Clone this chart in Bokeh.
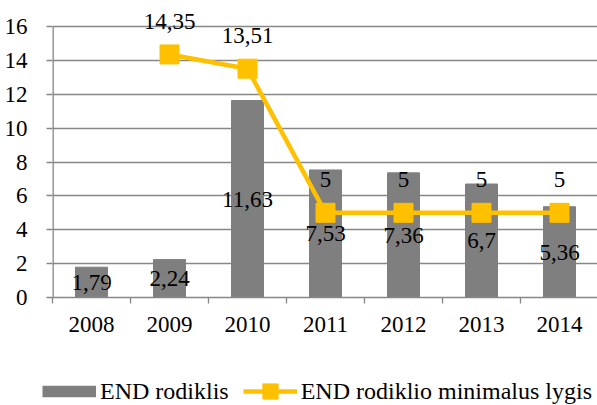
from bokeh.plotting import figure
from bokeh.layouts import column
from bokeh.models import ColumnDataSource, LabelSet, Legend, LegendItem, FixedTicker, Range1d
from bokeh.embed import file_html
from bokeh.resources import INLINE

# ---- data ----
years = [2008, 2009, 2010, 2011, 2012, 2013, 2014]
end_rodiklis = [1.79, 2.24, 11.63, 7.53, 7.36, 6.7, 5.36]
min_years = [2009, 2010, 2011, 2012, 2013, 2014]
min_lygis = [14.35, 13.51, 5, 5, 5, 5]
y_ticks = [0, 2, 4, 6, 8, 10, 12, 14, 16]
series_names = ["END rodiklis", "END rodiklio minimalus lygis"]


def fmt(v):
    return f"{v:g}".replace(".", ",")


FONT = "Liberation Serif"
GRID = "#878787"
BAR = "#7f7f7f"
GOLD = "#FFC000"
TXT = "23px"

bar_src = ColumnDataSource(dict(
    x=years, top=end_rodiklis,
    mid=[v / 2 for v in end_rodiklis],
    lbl=[fmt(v) for v in end_rodiklis]))
line_src = ColumnDataSource(dict(
    x=min_years, y=min_lygis, lbl=[fmt(v) for v in min_lygis]))

# frame: 545 px wide (78 px per year), 297 px tall; y=16 sits 26 px below the top
x_start = years[0] - 0.5
p = figure(width=597, height=340, output_backend="svg", toolbar_location=None,
           x_range=Range1d(x_start, x_start + 545 / 78),
           y_range=Range1d(y_ticks[0], y_ticks[-1] * 297 / 271),
           min_border_left=52, min_border_right=0, min_border_top=0,
           min_border_bottom=43)
p.outline_line_color = None

bars = p.vbar(x="x", top="top", width=0.41, source=bar_src,
              fill_color=BAR, line_color=BAR)
line = p.line("x", "y", source=line_src, line_color=GOLD, line_width=4.5)
marks = p.scatter("x", "y", source=line_src, marker="square", size=19,
                  fill_color=GOLD, line_color=GOLD)

# grid
p.xgrid.visible = False
p.ygrid.ticker = FixedTicker(ticks=y_ticks)
p.ygrid.grid_line_color = GRID
p.ygrid.grid_line_width = 1.3

# y axis (its line only spans the tick range, as in the reference)
p.segment(x0=[x_start], y0=[y_ticks[0]], x1=[x_start], y1=[y_ticks[-1]],
          line_color=GRID, line_width=2.6)
p.yaxis.ticker = FixedTicker(ticks=y_ticks)
p.yaxis.axis_line_color = None
p.yaxis.major_tick_line_color = GRID
p.yaxis.major_tick_line_width = 1.3
p.yaxis.major_tick_out = 6
p.yaxis.major_tick_in = 0
p.yaxis.minor_tick_line_color = None
p.yaxis.major_label_text_font = FONT
p.yaxis.major_label_text_font_size = TXT
p.yaxis.major_label_text_color = "black"
p.yaxis.major_label_standoff = 19

# x axis
p.xaxis.ticker = FixedTicker(ticks=years,
                             minor_ticks=[y - 0.5 for y in years] + [years[-1] + 0.5])
p.xaxis.axis_line_color = GRID
p.xaxis.axis_line_width = 1.3
p.xaxis.major_tick_line_color = None
p.xaxis.major_tick_out = 0
p.xaxis.major_tick_in = 0
p.xaxis.minor_tick_line_color = GRID
p.xaxis.minor_tick_line_width = 1.3
p.xaxis.minor_tick_out = 6
p.xaxis.minor_tick_in = 0
p.xaxis.major_label_text_font = FONT
p.xaxis.major_label_text_font_size = TXT
p.xaxis.major_label_text_color = "black"
p.xaxis.major_label_standoff = 13

# data labels
bar_labels = LabelSet(x="x", y="mid", text="lbl", source=bar_src,
                      text_align="center", text_baseline="middle",
                      text_font=FONT, text_font_size=TXT, text_color="black")
line_labels = LabelSet(x="x", y="y", text="lbl", source=line_src, y_offset=33,
                       text_align="center", text_baseline="middle",
                       text_font=FONT, text_font_size=TXT, text_color="black")
p.add_layout(bar_labels)
p.add_layout(line_labels)

# ---- legend strip below the chart ----
lp = figure(width=597, height=65, output_backend="svg", toolbar_location=None,
            x_range=Range1d(0, 1), y_range=Range1d(0, 1),
            x_axis_location=None, y_axis_location=None,
            min_border_left=0, min_border_right=0, min_border_top=0,
            min_border_bottom=0)
lp.outline_line_color = None
lp.grid.visible = False
# key glyphs use the series' own sources; their points fall outside this strip's ranges
key_bar = lp.line("x", "top", source=bar_src, line_color=BAR, line_width=11.5,
                  line_cap="butt")
key_line = lp.line("x", "y", source=line_src, line_color=GOLD, line_width=4.5)
key_mark = lp.scatter("x", "y", source=line_src, marker="square", size=19,
                      fill_color=GOLD, line_color=GOLD)

leg = Legend(items=[LegendItem(label=series_names[0], renderers=[key_bar]),
                    LegendItem(label=series_names[1], renderers=[key_line, key_mark])],
             orientation="horizontal", location=(42, -5),
             glyph_width=54, glyph_height=38, label_standoff=4, spacing=14,
             padding=0, margin=0, border_line_color=None,
             background_fill_alpha=0,
             label_text_font=FONT, label_text_font_size="24px",
             label_text_color="black")
lp.add_layout(leg)

for fig in (p, lp):
    if "frame_align" in fig.properties():
        fig.frame_align = False

open("out.html", "w").write(file_html(column(p, lp, spacing=0), INLINE))
